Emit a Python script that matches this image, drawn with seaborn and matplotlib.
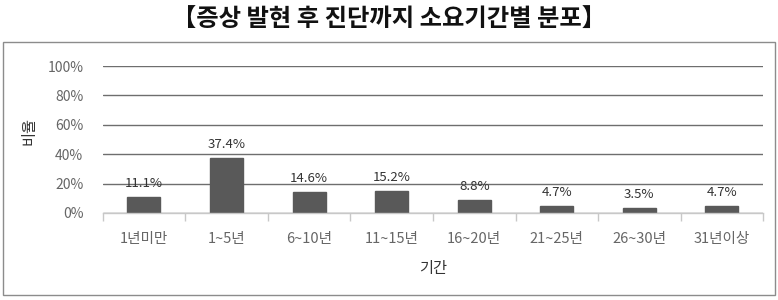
import matplotlib
matplotlib.use("Agg")
import matplotlib.pyplot as plt
import seaborn as sns
import pandas as pd
from matplotlib.patches import Rectangle
from matplotlib.ticker import FixedLocator

categories = ["1년미만", "1~5년", "6~10년", "11~15년", "16~20년", "21~25년", "26~30년", "31년이상"]
values = [11.1, 37.4, 14.6, 15.2, 8.8, 4.7, 3.5, 4.7]
labels = ["11.1%", "37.4%", "14.6%", "15.2%", "8.8%", "4.7%", "3.5%", "4.7%"]
yticks = [0, 20, 40, 60, 80, 100]
ytick_labels = ["0%", "20%", "40%", "60%", "80%", "100%"]

sns.set_theme(style="white")
plt.rcParams['font.family'] = ['Noto Sans CJK KR', 'DejaVu Sans']

fig = plt.figure(figsize=(7.78, 3.0), dpi=100)
ax = fig.add_axes([0.132, 0.29, 0.849, 0.49])

df = pd.DataFrame({"cat": categories, "val": values})
sns.barplot(data=df, x="cat", y="val", color="#595959", width=0.4, ax=ax,
            saturation=1, edgecolor="#595959")

ax.set_ylim(0, 100)
ax.set_xlim(-0.5, len(categories) - 0.5)
ax.set_yticks(yticks)
ax.set_yticklabels(ytick_labels, fontsize=10, color="#666666")
ax.yaxis.grid(True, color="#6e6e6e", linewidth=1.0)
ax.set_axisbelow(True)
for s in ["top", "right", "left"]:
    ax.spines[s].set_visible(False)
ax.spines["bottom"].set_color("#c8c8c8")
ax.spines["bottom"].set_linewidth(1.0)
ax.tick_params(axis="y", length=0, pad=14)
ax.tick_params(axis="x", which="major", length=0, pad=14, labelsize=10.5, labelcolor="#666666")
ax.xaxis.set_minor_locator(FixedLocator([i - 0.5 for i in range(len(categories) + 1)]))
ax.tick_params(axis="x", which="minor", length=6, color="#c8c8c8", width=1, bottom=True)

for i, (v, t) in enumerate(zip(values, labels)):
    ax.annotate(t, (i, v), xytext=(0, 5), textcoords="offset points",
                ha="center", va="bottom", fontsize=9.5, color="#333333")

ax.set_xlabel("기간", fontsize=11, color="#333333", labelpad=10)
ax.set_ylabel("비율", fontsize=11, color="#333333")
ax.yaxis.set_label_coords(-0.098, 0.56)

fig.patches.append(Rectangle((3 / 778, 1 - 295 / 300), 772 / 778, 253 / 300,
                             transform=fig.transFigure, fill=False,
                             edgecolor="#8c8c8c", linewidth=1.0))
fig.text(0.5, 0.935, "【증상 발현 후 진단까지 소요기간별 분포】", ha="center", va="center",
         fontsize=17.5, fontweight="bold", color="#111111")

fig.savefig("out.png", dpi=100)
